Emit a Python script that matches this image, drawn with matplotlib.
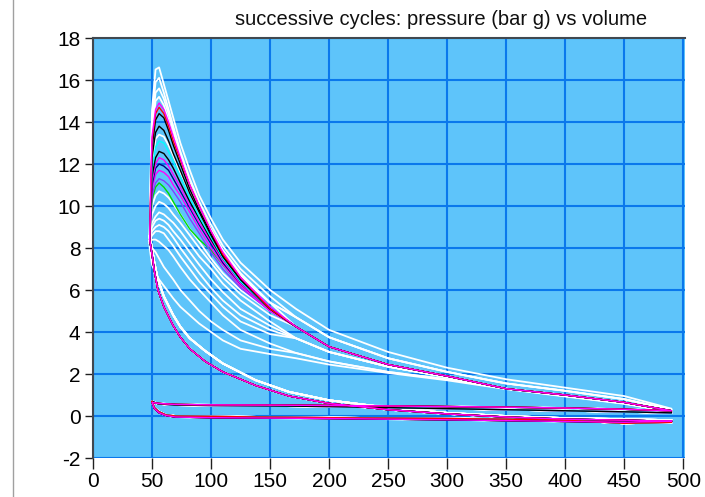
import numpy as np
import matplotlib
matplotlib.use("Agg")
import matplotlib.pyplot as plt
from matplotlib.lines import Line2D

plt.rcParams['font.family'] = ['Liberation Sans', 'DejaVu Sans']
plt.rcParams['axes.unicode_minus'] = False

# volume points (shared by all cycles)
comp_v = [490, 450, 400, 350, 300, 250, 200, 166, 138, 110, 95, 82, 74, 68, 60, 55, 52, 50, 48]
head_v = [48, 49, 50, 53, 56, 60, 64, 68, 74, 82, 90, 100, 110, 125, 150]
tail_v = [172, 200, 250, 300, 350, 400, 450, 490]
exh_v = [490, 450, 400, 350, 300, 250, 200, 150, 100, 70, 55, 50]
int_v = [50, 52, 56, 62, 70, 100, 150, 200, 250, 300, 350, 400, 450, 490]

# compression strokes (pressure, bar g)
comp_main = [-0.25, -0.2, -0.15, -0.05, 0.1, 0.3, 0.6, 0.95, 1.45, 2.1, 2.6, 3.2, 3.75, 4.3, 5.2, 6.0, 6.9, 7.7, 8.4]
comp_white = [-0.2, -0.15, -0.1, 0.0, 0.15, 0.4, 0.75, 1.15, 1.7, 2.5, 3.1, 3.7, 4.25, 4.8, 5.7, 6.5, 7.3, 8.0, 8.6]

# expansion tails
tails = {
    'upper':    [5.1, 4.1, 3.05, 2.3, 1.75, 1.35, 0.95, 0.35],
    'midupper': [4.7, 3.75, 2.75, 2.1, 1.55, 1.2, 0.8, 0.3],
    'main':     [4.25, 3.3, 2.45, 1.9, 1.3, 1.0, 0.65, 0.25],
    'lower':    [3.7, 3.05, 2.35, 1.85, 1.3, 0.98, 0.62, 0.22],
    'lowest':   [3.0, 2.6, 2.1, 1.75, 1.3, 0.95, 0.6, 0.2],
    'lowest2':  [2.75, 2.45, 2.05, 1.7, 1.28, 0.93, 0.58, 0.2],
}

# exhaust / intake strokes
exh_a = [0.25, 0.32, 0.38, 0.42, 0.45, 0.48, 0.5, 0.52, 0.53, 0.55, 0.6, 0.65]
exh_b = [0.15, 0.2, 0.25, 0.3, 0.35, 0.4, 0.45, 0.48, 0.5, 0.52, 0.58, 0.7]
int_a = [0.65, 0.35, 0.15, 0.02, -0.05, -0.08, -0.1, -0.12, -0.15, -0.18, -0.22, -0.26, -0.3, -0.25]
int_b = [0.7, 0.4, 0.2, 0.05, 0.0, -0.02, -0.05, -0.08, -0.1, -0.12, -0.15, -0.2, -0.35, -0.3]

# combustion heads: one per cycle
cycles = [
    # colour, head pressures, tail, compression, exhaust, intake
    ('white', [8.6, 12.0, 14.6, 16.5, 16.6, 15.8, 15.0, 14.2, 13.0, 11.7, 10.5, 9.4, 8.4, 7.3, 6.0], 'upper', comp_white, exh_b, int_b),
    ('white', [8.5, 11.8, 14.2, 15.9, 16.1, 15.4, 14.6, 13.8, 12.6, 11.3, 10.2, 9.1, 8.1, 7.0, 5.7], 'midupper', comp_main, exh_b, int_b),
    ('white', [8.5, 11.5, 13.8, 15.4, 15.6, 15.1, 14.4, 13.6, 12.4, 11.1, 10.0, 8.9, 7.9, 6.8, 5.4], 'main', comp_white, exh_a, int_b),
    ('white', [8.5, 11.3, 13.5, 15.0, 15.2, 14.8, 14.1, 13.3, 12.2, 10.9, 9.9, 8.8, 7.8, 6.7, 5.4], 'midupper', comp_main, exh_b, int_a),
    ('white', [8.4, 10.3, 12.0, 13.2, 13.4, 13.3, 12.9, 12.4, 11.6, 10.6, 9.7, 8.6, 7.7, 6.6, 5.4], 'midupper', comp_white, exh_b, int_b),
    ('white', [8.4, 9.2, 10.0, 10.5, 10.7, 10.6, 10.4, 10.1, 9.6, 8.9, 8.3, 7.5, 6.8, 6.0, 5.0], 'main', comp_main, exh_a, int_b),
    ('white', [8.4, 9.0, 9.6, 10.0, 10.2, 10.1, 9.9, 9.6, 9.2, 8.6, 8.0, 7.3, 6.6, 5.8, 4.8], 'main', comp_white, exh_b, int_a),
    ('white', [8.3, 8.8, 9.2, 9.5, 9.7, 9.6, 9.4, 9.2, 8.8, 8.2, 7.6, 7.0, 6.3, 5.5, 4.5], 'lower', comp_main, exh_b, int_b),
    ('white', [8.3, 8.7, 9.0, 9.3, 9.4, 9.3, 9.1, 8.8, 8.4, 7.8, 7.2, 6.5, 5.9, 5.1, 4.3], 'lower', comp_white, exh_a, int_b),
    ('white', [8.2, 8.5, 8.8, 9.0, 9.1, 9.0, 8.8, 8.5, 8.0, 7.4, 6.8, 6.1, 5.5, 4.8, 4.1], 'lower', comp_main, exh_b, int_b),
    ('white', [8.2, 8.4, 8.6, 8.8, 8.8, 8.7, 8.4, 8.1, 7.6, 7.0, 6.4, 5.8, 5.2, 4.5, 3.9], 'lower', comp_white, exh_b, int_a),
    ('white', [8.2, 8.3, 8.4, 8.4, 8.3, 8.1, 7.9, 7.6, 7.1, 6.5, 6.0, 5.4, 4.8, 4.1, 3.45], 'lowest', comp_main, exh_b, int_b),
    ('white', [8.2, 8.1, 8.0, 7.8, 7.5, 7.1, 6.8, 6.5, 6.0, 5.5, 5.0, 4.5, 4.1, 3.6, 3.2], 'lowest', comp_white, exh_a, int_b),
    ('white', [8.0, 7.6, 7.2, 6.8, 6.5, 6.2, 5.9, 5.6, 5.2, 4.8, 4.4, 4.0, 3.6, 3.2, 2.95], 'lowest2', comp_white, exh_b, int_b),
    ('#00dd00', [8.4, 9.4, 10.3, 10.9, 11.1, 10.9, 10.6, 10.2, 9.6, 8.9, 8.4, 7.9, 7.2, 6.2, 5.0], 'main', comp_main, exh_a, int_a),
    ('#8040ff', [8.4, 9.5, 10.5, 11.1, 11.3, 11.2, 11.0, 10.7, 10.2, 9.4, 8.7, 7.8, 7.0, 6.1, 5.0], 'main', comp_main, exh_b, int_a),
    ('#ff00ff', [8.4, 9.7, 10.8, 11.5, 11.7, 11.6, 11.4, 11.0, 10.5, 9.7, 8.9, 8.0, 7.2, 6.2, 5.0], 'main', comp_main, exh_a, int_b),
    ('#000080', [8.4, 9.8, 11.0, 11.8, 12.0, 11.9, 11.7, 11.3, 10.7, 9.9, 9.1, 8.2, 7.3, 6.3, 5.1], 'main', comp_main, exh_a, int_a),
    ('#ff00ff', [8.4, 9.9, 11.2, 12.0, 12.3, 12.2, 11.9, 11.5, 10.9, 10.0, 9.2, 8.3, 7.4, 6.3, 5.1], 'main', comp_main, exh_b, int_a),
    ('#000000', [8.4, 10.0, 11.4, 12.3, 12.6, 12.5, 12.2, 11.8, 11.1, 10.2, 9.4, 8.4, 7.5, 6.4, 5.1], 'main', comp_main, exh_a, int_b),
    ('#00ffff', [8.4, 10.2, 11.8, 12.8, 13.1, 13.0, 12.6, 12.1, 11.4, 10.4, 9.5, 8.5, 7.5, 6.4, 5.1], 'main', comp_main, exh_b, int_b),
    ('#000000', [8.4, 10.5, 12.3, 13.5, 13.8, 13.6, 13.1, 12.5, 11.7, 10.6, 9.7, 8.6, 7.6, 6.5, 5.1], 'main', comp_main, exh_a, int_a),
    ('#000000', [8.4, 10.8, 12.8, 14.1, 14.4, 14.2, 13.6, 12.9, 12.0, 10.8, 9.8, 8.7, 7.6, 6.5, 5.1], 'main', comp_main, exh_b, int_a),
    ('#ff0000', [8.4, 11.0, 13.1, 14.4, 14.7, 14.4, 13.8, 13.1, 12.2, 11.0, 10.0, 8.8, 7.7, 6.6, 5.1], 'main', comp_main, exh_a, int_b),
    ('#ff00ff', [8.4, 11.2, 13.3, 14.6, 14.9, 14.6, 14.0, 13.3, 12.3, 11.0, 10.0, 8.8, 7.8, 6.6, 5.2], 'main', comp_main, exh_a, int_a),
]

fig = plt.figure(figsize=(7.05, 4.97), dpi=100)
ax = fig.add_axes([93 / 705, 1 - 458 / 497, 592 / 705, 420 / 497])
ax.set_facecolor('#5ec4fa')

for i, (col, head, tail, comp, exh, intk) in enumerate(cycles):
    v = np.concatenate([comp_v, head_v, tail_v, exh_v, int_v])
    p = np.concatenate([comp, head, tails[tail], exh, intk])
    lw = 1.3 if col == 'white' else 1.0
    ax.plot(v, p, color=col, lw=lw, zorder=3 + i * 0.01)

ax.set_xlim(0, 501.5)
ax.set_ylim(-2, 18)
ax.set_xticks(np.arange(0, 501, 50))
ax.set_yticks(np.arange(-2, 19, 2))
ax.grid(True, color='#0a78ec', lw=1.5, zorder=1)
ax.set_axisbelow(True)

for s in ['right', 'bottom']:
    ax.spines[s].set_visible(False)
ax.spines['left'].set_color('#404850')
ax.spines['top'].set_color('#404850')
ax.spines['left'].set_linewidth(1.5)
ax.spines['top'].set_linewidth(1.5)

ax.tick_params(axis='x', length=8, width=1, color='#202020', pad=2, labelsize=15)
ax.tick_params(axis='y', length=6, width=1, color='#202020', pad=3, labelsize=15)

fig.text(0.626, 0.96, 'successive cycles: pressure (bar g) vs volume',
         ha='center', va='center', fontsize=14.5, color='#101010')

fig.add_artist(Line2D([13 / 705, 13 / 705], [0, 1], color='#a0a0a0', lw=1))

fig.savefig('out.png', dpi=100)
